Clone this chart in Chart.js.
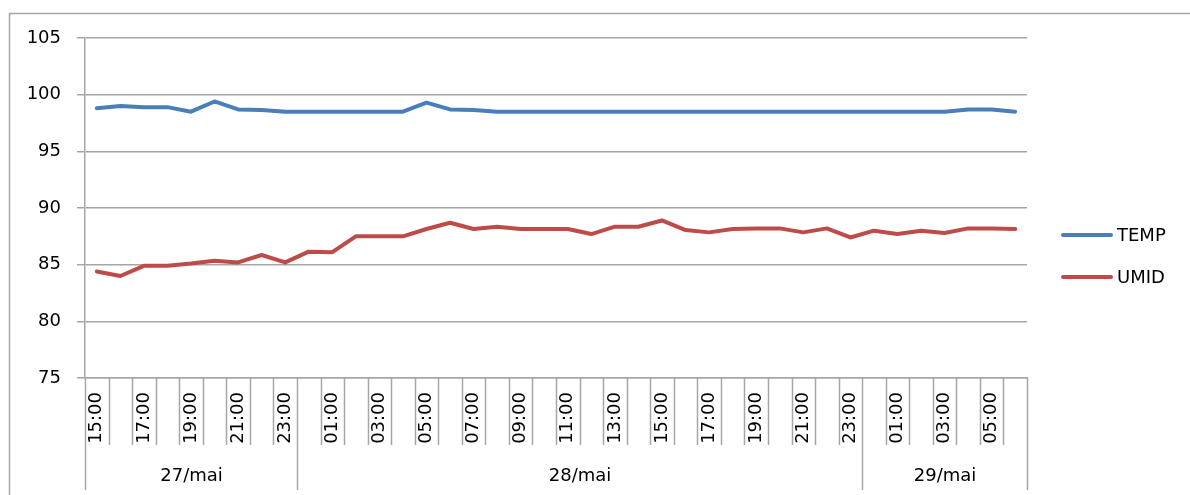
<!DOCTYPE html>
<html>
<head>
<meta charset="utf-8">
<script src="https://cdn.jsdelivr.net/npm/chart.js@4/dist/chart.umd.min.js"></script>
<style>
  html,body{margin:0;padding:0;background:#fff;}
  #wrap{width:1190px;height:495px;position:relative;}
</style>
</head>
<body>
<div id="wrap"><canvas id="chart" width="1190" height="495"></canvas></div>
<script>
const hours = ['15:00','16:00','17:00','18:00','19:00','20:00','21:00','22:00','23:00',
  '00:00','01:00','02:00','03:00','04:00','05:00','06:00','07:00','08:00','09:00','10:00','11:00',
  '12:00','13:00','14:00','15:00','16:00','17:00','18:00','19:00','20:00','21:00','22:00','23:00',
  '00:00','01:00','02:00','03:00','04:00','05:00','06:00'];
const days = ['27/mai','28/mai','29/mai'];
const daySpans = [9, 24, 7];
const temp = [98.8,99.0,98.9,98.9,98.5,99.4,98.7,98.65,98.5,
  98.5,98.5,98.5,98.5,98.5,99.3,98.7,98.65,98.5,98.5,98.5,98.5,
  98.5,98.5,98.5,98.5,98.5,98.5,98.5,98.5,98.5,98.5,98.5,98.5,
  98.5,98.5,98.5,98.5,98.7,98.7,98.5];
const umid = [84.4,84.0,84.9,84.9,85.1,85.35,85.2,85.85,85.2,
  86.15,86.1,87.5,87.5,87.5,88.15,88.7,88.15,88.35,88.15,88.15,88.15,
  87.7,88.35,88.35,88.9,88.05,87.85,88.15,88.2,88.2,87.85,88.2,87.4,
  88.0,87.7,88.0,87.8,88.2,88.2,88.15];

const FONT = 'DejaVu Sans';
const GRID = '#a6a6a6';

// frame, category separators, day groups and legend
const extras = {
  id:'extras',
  beforeDraw(chart){
    const c = chart.ctx;
    c.save();
    c.fillStyle = '#fff';
    c.fillRect(0,0,chart.width,chart.height);
    c.strokeStyle = GRID; c.lineWidth = 1.5;
    c.beginPath();
    c.moveTo(9.5, chart.height); c.lineTo(9.5, 13.5); c.lineTo(chart.width, 13.5);
    c.stroke();
    c.restore();
  },
  afterDraw(chart){
    const c = chart.ctx, x = chart.scales.x, a = chart.chartArea;
    const half = (x.getPixelForValue(1) - x.getPixelForValue(0)) / 2;
    const edge = i => Math.round(x.getPixelForValue(i) - half) + 0.5;
    const bounds = [0];
    daySpans.forEach(s => bounds.push(bounds[bounds.length-1] + s));
    c.save();
    c.strokeStyle = GRID; c.lineWidth = 1.5;
    for (let i = 0; i <= hours.length; i++){
      const px = edge(i);
      const long = bounds.includes(i);
      c.beginPath(); c.moveTo(px, a.bottom); c.lineTo(px, long ? 490 : 445); c.stroke();
    }
    c.fillStyle = '#000'; c.font = '18px "' + FONT + '"';
    c.textAlign = 'center'; c.textBaseline = 'middle';
    days.forEach((d, k) => {
      const mid = (edge(bounds[k]) + edge(bounds[k+1])) / 2;
      c.fillText(d, mid, 476);
    });
    // legend
    c.textAlign = 'left';
    chart.data.datasets.forEach((ds, k) => {
      const y = 235 + k * 42;
      c.strokeStyle = ds.borderColor; c.lineWidth = 4; c.lineCap = 'round';
      c.beginPath(); c.moveTo(1063, y); c.lineTo(1111, y); c.stroke();
      c.fillStyle = '#000';
      c.fillText(ds.label, 1117, y + 1);
    });
    c.restore();
  }
};

new Chart(document.getElementById('chart').getContext('2d'), {
  type:'line',
  data:{
    labels: hours,
    datasets:[
      { label:'TEMP', data: temp, borderColor:'#4a7ebb', borderWidth:4, pointRadius:0, tension:0, borderJoinStyle:'round', borderCapStyle:'round' },
      { label:'UMID', data: umid, borderColor:'#be4b48', borderWidth:4, pointRadius:0, tension:0, borderJoinStyle:'round', borderCapStyle:'round' }
    ]
  },
  options:{
    responsive:false, animation:false,
    layout:{ padding:{ top:38, right:163, bottom:0, left:0 } },
    plugins:{ legend:{ display:false }, tooltip:{ enabled:false } },
    scales:{
      x:{
        offset:true,
        grid:{ display:false, drawTicks:false, offset:true },
        border:{ display:true, color:GRID, width:1.5 },
        ticks:{ autoSkip:false, minRotation:90, maxRotation:90, padding:14, color:'#000',
          font:{ family:FONT, size:18 },
          callback:(v, i) => i % 2 === 0 ? hours[i] : '' },
        afterFit(s){ s.height = 117; }
      },
      y:{
        min:75, max:105,
        grid:{ color:GRID, lineWidth:1.5, tickLength:8 },
        border:{ display:true, color:GRID, width:1.5 },
        ticks:{ stepSize:5, padding:16, color:'#000', font:{ family:FONT, size:18 } },
        afterFit(s){ s.width = 85; }
      }
    }
  },
  plugins:[extras]
});
</script>
</body>
</html>
